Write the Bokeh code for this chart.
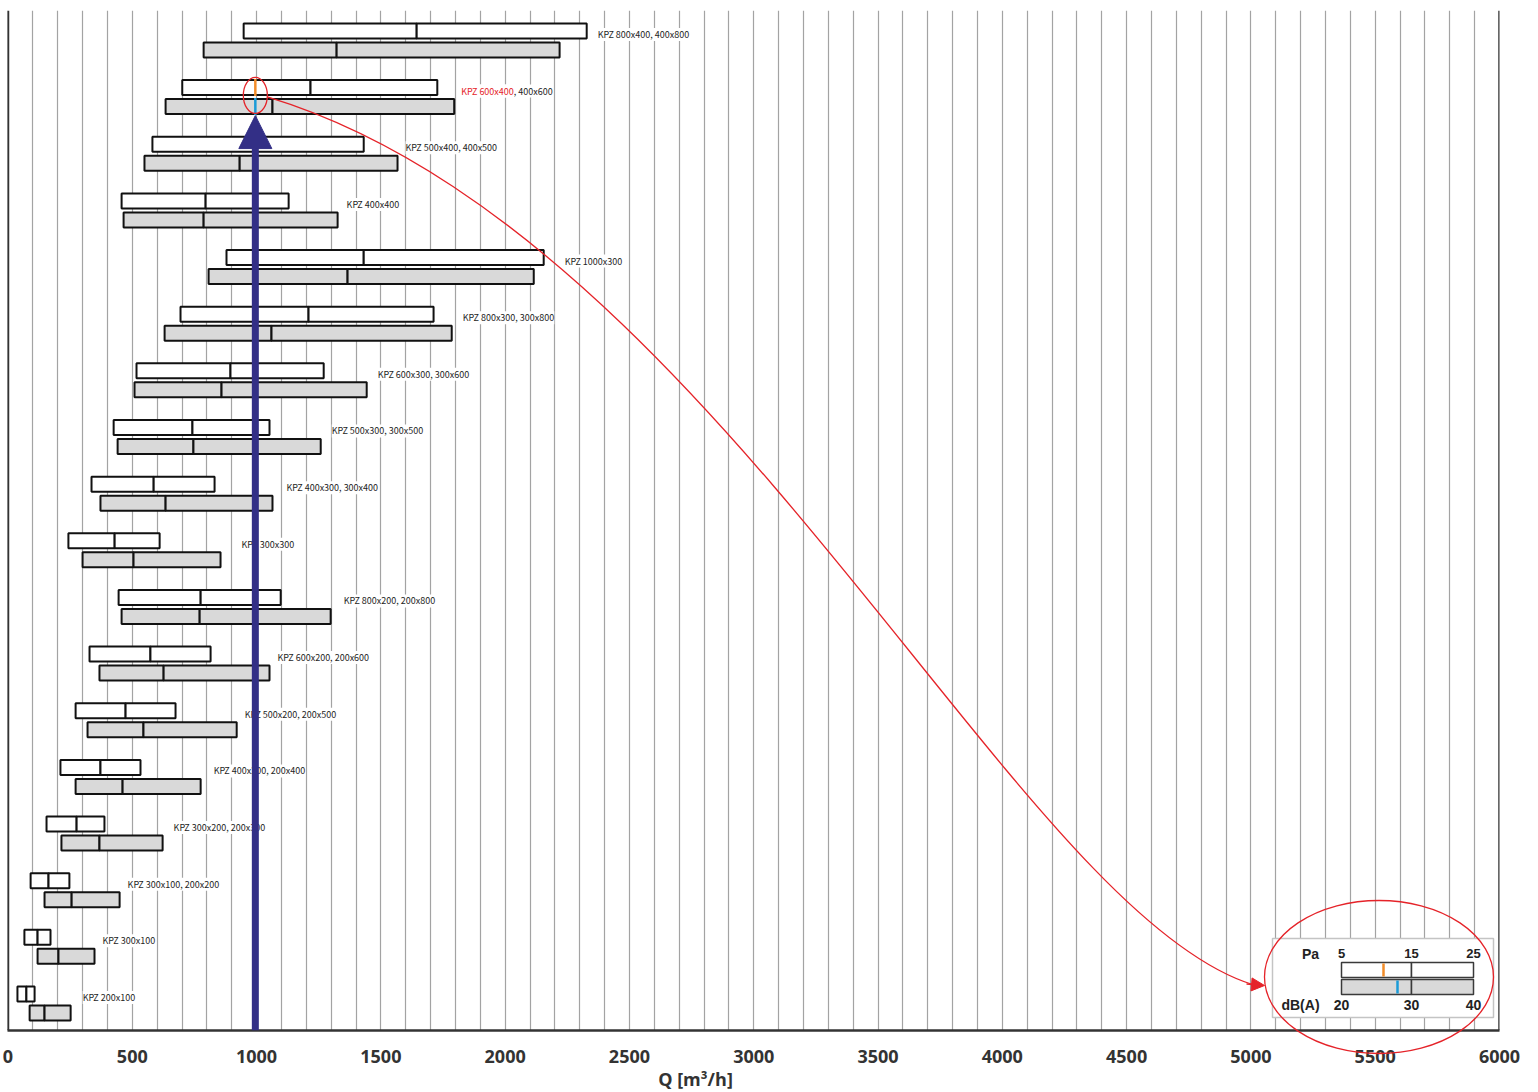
import numpy as np
from bokeh.plotting import figure
from bokeh.models import (Range1d, SingleIntervalTicker, FixedTicker, Span, Label, LabelSet,
                          ColumnDataSource, Arrow, NormalHead)
from bokeh.core.properties import value
from bokeh.embed import file_html
from bokeh.resources import INLINE

# ---------------- data ----------------
models = ["KPZ 800x400, 400x800", "KPZ 600x400, 400x600", "KPZ 500x400, 400x500", "KPZ 400x400",
          "KPZ 1000x300", "KPZ 800x300, 300x800", "KPZ 600x300, 300x600", "KPZ 500x300, 300x500",
          "KPZ 400x300, 300x400", "KPZ 300x300", "KPZ 800x200, 200x800", "KPZ 600x200, 200x600",
          "KPZ 500x200, 200x500", "KPZ 400x200, 200x400", "KPZ 300x200, 200x300",
          "KPZ 300x100, 200x200", "KPZ 300x100", "KPZ 200x100"]
# air flow Q [m3/h] at 5 / 15 / 25 Pa
pa5 = [948, 701, 581, 457, 879, 694, 517, 425, 336, 243, 445, 328, 272, 211, 155, 91, 66, 38]
pa15 = [1644, 1217, 1000, 795, 1431, 1209, 895, 742, 586, 429, 775, 573, 473, 372, 276, 163, 119, 74]
pa25 = [2328, 1727, 1431, 1129, 2155, 1712, 1270, 1052, 831, 610, 1097, 815, 674, 533, 388, 247, 171, 107]
# air flow Q [m3/h] at 20 / 30 / 40 dB(A)
db20 = [787, 634, 549, 465, 807, 630, 509, 441, 372, 300, 457, 368, 320, 272, 215, 147, 119, 87]
db30 = [1322, 1064, 932, 787, 1366, 1060, 859, 746, 634, 505, 771, 626, 545, 461, 368, 256, 203, 147]
db40 = [2219, 1795, 1567, 1326, 2115, 1785, 1443, 1258, 1064, 855, 1298, 1052, 920, 775, 622, 449, 348, 252]

selected = 1                 # highlighted model
selected_name = "KPZ 600x400"
op_flow = 995                # operating point Q [m3/h]
op_pa = 11                   # resulting pressure drop [Pa]
op_db = 28                   # resulting noise [dB(A)]
pa_ticks = [5, 15, 25]
db_ticks = [20, 30, 40]
x_ticks = [0, 500, 1000, 1500, 2000, 2500, 3000, 3500, 4000, 4500, 5000, 5500, 6000]
x_title = "Q [m³/h]"

# ---------------- layout ----------------
RED, ORANGE, CYAN, NAVY = "#e52329", "#f28c28", "#1b9bd7", "#332f86"
TXT = "#333333"
LBL_FONT = "Noto Sans CJK JP"
LBL_SIZE = "9px"
TICK_FONT = "Open Sans"
FW, FH = 1492, 1020
FL, FT = 7, 10
X0, X1 = -2, 6000
ROW = 56.65
Y0 = -0.477
Y1 = Y0 + FH / ROW


def X(px):
    return X0 + (px - FL) / FW * (X1 - X0)


def Y(py):
    return Y1 - (py - FT) / FH * (Y1 - Y0)


def PX(x):
    return FL + (x - X0) / (X1 - X0) * FW


def PY(y):
    return FT + (Y1 - y) / (Y1 - Y0) * FH


BAR_OFF = 9.5 / ROW
BAR_HALF = 7.5 / ROW
LABEL_DY = 6 / ROW
LABEL_GAP = [11, 7, 8, 9, 21, 11, 11, 11, 14, 21, 13, 8, 8, 13, 11, 8, 8, 12]

n = len(models)
rows = [n - 1 - i for i in range(n)]

p = figure(width=FL + FW + 34, height=FT + FH + 62, output_backend="svg", toolbar_location=None,
           x_range=Range1d(X0, X1), y_range=Range1d(Y0, Y1), y_axis_location=None,
           min_border_left=FL, min_border_right=34, min_border_top=FT, min_border_bottom=62)
p.outline_line_color = None
p.background_fill_color = "white"
p.border_fill_color = "white"

# grid
p.ygrid.visible = False
p.xgrid.ticker = SingleIntervalTicker(interval=100)
p.xgrid.grid_line_color = "#a3a3a3"
p.xgrid.grid_line_width = 1.2

# x axis
ax = p.xaxis[0]
ax.ticker = FixedTicker(ticks=x_ticks)
ax.axis_line_color = TXT
ax.axis_line_width = 2.5
ax.major_tick_line_color = None
ax.minor_tick_line_color = None
ax.major_tick_out = 0
ax.major_tick_in = 0
ax.major_label_standoff = 19
ax.major_label_text_font = TICK_FONT
ax.major_label_text_font_style = "bold"
ax.major_label_text_font_size = "18px"
ax.major_label_text_color = TXT

p.text(x=[X(695)], y=[Y(1078)], text=[x_title], text_align="center", text_baseline="middle",
       text_font=value(TICK_FONT), text_font_style="bold", text_font_size=value("18px"),
       text_color=TXT, level="overlay")

for loc in (0, 6000):
    p.add_layout(Span(location=loc, dimension="height", line_color=TXT, line_width=2.5))

# bars
def bar_parts(lo, mid, hi, off):
    L, R, B, T = [], [], [], []
    for i in range(n):
        yc = rows[i] + off
        for a, b in ((lo[i], mid[i]), (mid[i], hi[i])):
            L.append(a); R.append(b); B.append(yc - BAR_HALF); T.append(yc + BAR_HALF)
    return dict(left=L, right=R, bottom=B, top=T)

p.quad(source=ColumnDataSource(bar_parts(pa5, pa15, pa25, BAR_OFF)), left="left", right="right",
       bottom="bottom", top="top", fill_color="white", line_color="#111111", line_width=2)
p.quad(source=ColumnDataSource(bar_parts(db20, db30, db40, -BAR_OFF)), left="left", right="right",
       bottom="bottom", top="top", fill_color="#d9d9d9", line_color="#111111", line_width=2)

# operating point markers on selected model
ys = rows[selected]
p.segment(x0=[op_flow, op_flow], x1=[op_flow, op_flow],
          y0=[ys + BAR_OFF - BAR_HALF - 1 / ROW, ys - BAR_OFF - BAR_HALF - 1 / ROW],
          y1=[ys + BAR_OFF + BAR_HALF + 1 / ROW, ys - BAR_OFF + BAR_HALF + 1 / ROW],
          line_color=[ORANGE, CYAN], line_width=2.5)

# model labels
lab_src = ColumnDataSource(dict(x=[max(a, b) for a, b in zip(pa25, db40)],
                                y=[r + LABEL_DY for r in rows], text=models, dx=LABEL_GAP))
p.add_layout(LabelSet(x="x", y="y", text="text", x_offset="dx", source=lab_src,
                      text_font=value(LBL_FONT), text_font_size=value(LBL_SIZE), text_color="#1e1e1e",
                      text_baseline="middle", background_fill_color="white"))
p.add_layout(Label(x=max(pa25[selected], db40[selected]), y=rows[selected] + LABEL_DY,
                   x_offset=LABEL_GAP[selected], text=selected_name, text_font=LBL_FONT,
                   text_font_size=LBL_SIZE, text_color=RED, text_baseline="middle",
                   background_fill_color="white"))

# big arrow at operating flow
p.add_layout(Arrow(end=NormalHead(size=33, fill_color=NAVY, line_color=NAVY, line_width=1),
                   x_start=op_flow, y_start=Y0, x_end=op_flow,
                   y_end=ys - BAR_OFF - BAR_HALF - 1.5 / ROW,
                   line_color=NAVY, line_width=7))

# small ellipse around the markers
p.ellipse(x=[op_flow], y=[ys + 1.7 / ROW], width=24, height=36, width_units="screen",
          height_units="screen", fill_color=None, line_color=RED, line_width=1.3, level="overlay")

# connecting curve
sx, sy = PX(op_flow), PY(ys + 1.7 / ROW)
P0 = (sx + 12, sy + 1.5)
P1 = (715, 232)
P2 = (1014, 910)
P3 = (1252, 984)
p.bezier(x0=[X(P0[0])], y0=[Y(P0[1])], x1=[X(P3[0])], y1=[Y(P3[1])],
         cx0=[X(P1[0])], cy0=[Y(P1[1])], cx1=[X(P2[0])], cy1=[Y(P2[1])],
         line_color=RED, line_width=1.3, level="overlay")
p.add_layout(Arrow(end=NormalHead(size=13, fill_color=RED, line_color=RED, line_width=1),
                   x_start=X(1246), y_start=Y(983.5), x_end=X(1264), y_end=Y(985),
                   line_color=RED, line_width=1.3))

# legend box
LEG_TICK_PX = [1341, 1411, 1473]
p.quad(left=[X(1272)], right=[X(1493)], top=[Y(938)], bottom=[Y(1017)], fill_color="white",
       line_color="#c4c4c4", line_width=1.5)
for (t, b), fill in (((962, 977), "white"), ((979, 994), "#d9d9d9")):
    p.quad(left=[X(LEG_TICK_PX[0]), X(LEG_TICK_PX[1])], right=[X(LEG_TICK_PX[1]), X(LEG_TICK_PX[2])],
           top=[Y(t)] * 2, bottom=[Y(b)] * 2, fill_color=fill, line_color="#3a3a3a", line_width=1.5)
mx_pa = float(np.interp(op_pa, pa_ticks, LEG_TICK_PX))
mx_db = float(np.interp(op_db, db_ticks, LEG_TICK_PX))
p.segment(x0=[X(mx_pa), X(mx_db)], x1=[X(mx_pa), X(mx_db)], y0=[Y(976), Y(993)],
          y1=[Y(963), Y(980)], line_color=[ORANGE, CYAN], line_width=2.5)

def leg_text(px, py, txt, size="14px"):
    p.add_layout(Label(x=X(px), y=Y(py), text=txt, text_align="center", text_baseline="middle",
                       text_font="Liberation Sans", text_font_style="bold", text_font_size=size,
                       text_color="#222222"))

leg_text(1310, 953, "Pa")
leg_text(1300, 1004, "dB(A)")
for px, v in zip(LEG_TICK_PX, pa_ticks):
    leg_text(px, 953, str(v), "13px")
for px, v in zip(LEG_TICK_PX, db_ticks):
    leg_text(px, 1004, str(v), "14px")

# big ellipse around legend
p.ellipse(x=[X(1378.5)], y=[Y(976.5)], width=229, height=153, width_units="screen",
          height_units="screen", fill_color=None, line_color=RED, line_width=1.3, level="overlay")

open("out.html", "w").write(file_html(p, INLINE))
